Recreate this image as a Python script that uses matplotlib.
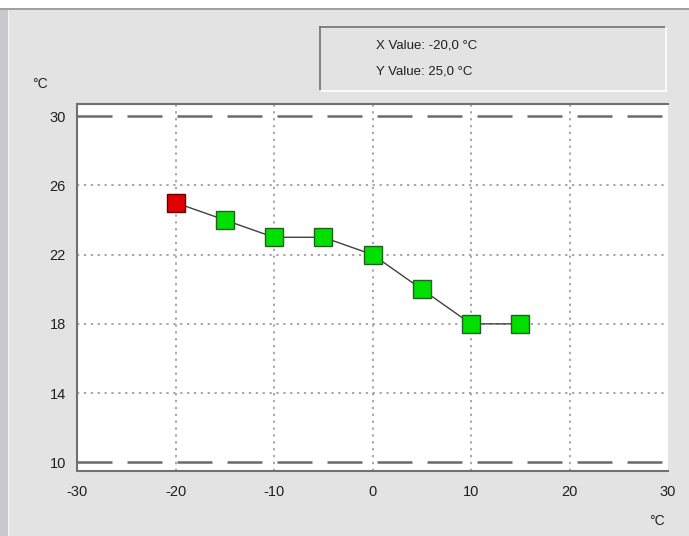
import matplotlib
matplotlib.use("Agg")
import matplotlib.pyplot as plt
from matplotlib.patches import Rectangle

x_vals = [-20, -15, -10, -5, 0, 5, 10, 15]
y_vals = [25, 24, 23, 23, 22, 20, 18, 18]
marker_colors = ["#e00000", "#00e000", "#00e000", "#00e000", "#00e000", "#00e000", "#00e000", "#00e000"]
x_ticks = [-30, -20, -10, 0, 10, 20, 30]
y_ticks = [10, 14, 18, 22, 26, 30]
limit_lines = [30, 10]
info_x = "X Value: -20,0 °C"
info_y = "Y Value: 25,0 °C"
unit = "°C"

W, H = 689, 536
fig = plt.figure(figsize=(W/100, H/100), dpi=100)
bg = "#e3e3e3"
fig.patch.set_facecolor(bg)

# window frame details
fig.patches.append(Rectangle((0, 1 - 8/H), 1, 8/H, transform=fig.transFigure, facecolor="#ffffff", edgecolor="none", zorder=0))
fig.patches.append(Rectangle((0, 1 - 10/H), 1, 2/H, transform=fig.transFigure, facecolor="#a0a0a8", edgecolor="none", zorder=0))
fig.patches.append(Rectangle((0, 0), 8/W, 1 - 10/H, transform=fig.transFigure, facecolor="#c9c9cc", edgecolor="none", zorder=0))
fig.patches.append(Rectangle((8/W, 0), 1/W, 1 - 10/H, transform=fig.transFigure, facecolor="#f4f4f4", edgecolor="none", zorder=0))

# info box
bx0, by0, bx1, by1 = 320, 27, 666, 91
fig.patches.append(Rectangle((bx0/W, 1 - by1/H), (bx1-bx0)/W, (by1-by0)/H, transform=fig.transFigure,
                             facecolor=bg, edgecolor="none", zorder=1))
fig.add_artist(plt.Line2D([bx0/W, bx1/W], [1-by0/H, 1-by0/H], transform=fig.transFigure, color="#707070", lw=1.2))
fig.add_artist(plt.Line2D([bx0/W, bx0/W], [1-by0/H, 1-by1/H], transform=fig.transFigure, color="#707070", lw=1.2))
fig.add_artist(plt.Line2D([bx0/W, bx1/W], [1-by1/H, 1-by1/H], transform=fig.transFigure, color="#ffffff", lw=1.2))
fig.add_artist(plt.Line2D([bx1/W, bx1/W], [1-by0/H, 1-by1/H], transform=fig.transFigure, color="#ffffff", lw=1.2))
fig.text(376/W, 1 - 45/H, info_x, fontsize=9.5, va="center", ha="left", color="#202020", family="Liberation Sans")
fig.text(376/W, 1 - 72/H, info_y, fontsize=9.5, va="center", ha="left", color="#202020", family="Liberation Sans")

ax = fig.add_axes([77/W, 1 - 471/H, (668-77)/W, (471-104)/H])
ax.set_facecolor("white")
ax.set_xlim(-30, 30)
ax.set_ylim(9.5, 30.7)
ax.set_xticks(x_ticks)
ax.set_yticks(y_ticks)
ax.set_xticklabels([str(v) for v in x_ticks])
ax.set_yticklabels([str(v) for v in y_ticks])
ax.tick_params(axis="x", length=0, labelsize=10.5, colors="#202020", pad=10)
ax.tick_params(axis="y", length=0, labelsize=10.5, colors="#202020", pad=8)
for lab in ax.get_xticklabels() + ax.get_yticklabels():
    lab.set_family("Liberation Sans")

for v in x_ticks[1:-1]:
    ax.axvline(v, color="#909090", lw=1.1, ls=(0, (1.5, 3)), zorder=1)
for v in y_ticks[1:-1]:
    ax.axhline(v, color="#909090", lw=1.1, ls=(0, (1.5, 3)), zorder=1)
for v in limit_lines:
    ax.axhline(v, color="#6a6a6a", lw=1.8, ls=(0, (14, 6)), zorder=2)

ax.plot(x_vals, y_vals, color="#404040", lw=1, zorder=3)
for xv, yv, c in zip(x_vals, y_vals, marker_colors):
    ax.plot([xv], [yv], marker="s", ms=12.5, mfc=c, mec="#206020" if c != "#e00000" else "#600000", mew=1, zorder=4)

for s in ["left", "top", "bottom"]:
    ax.spines[s].set_color("#707070")
    ax.spines[s].set_linewidth(1.5)
ax.spines["right"].set_visible(False)

fig.text(40/W, 1 - 84/H, unit, fontsize=10, ha="center", va="center", color="#202020", family="Liberation Sans")
fig.text(657/W, 1 - 521/H, unit, fontsize=10, ha="center", va="center", color="#202020", family="Liberation Sans")

fig.savefig("out.png", dpi=100, facecolor=fig.get_facecolor())
